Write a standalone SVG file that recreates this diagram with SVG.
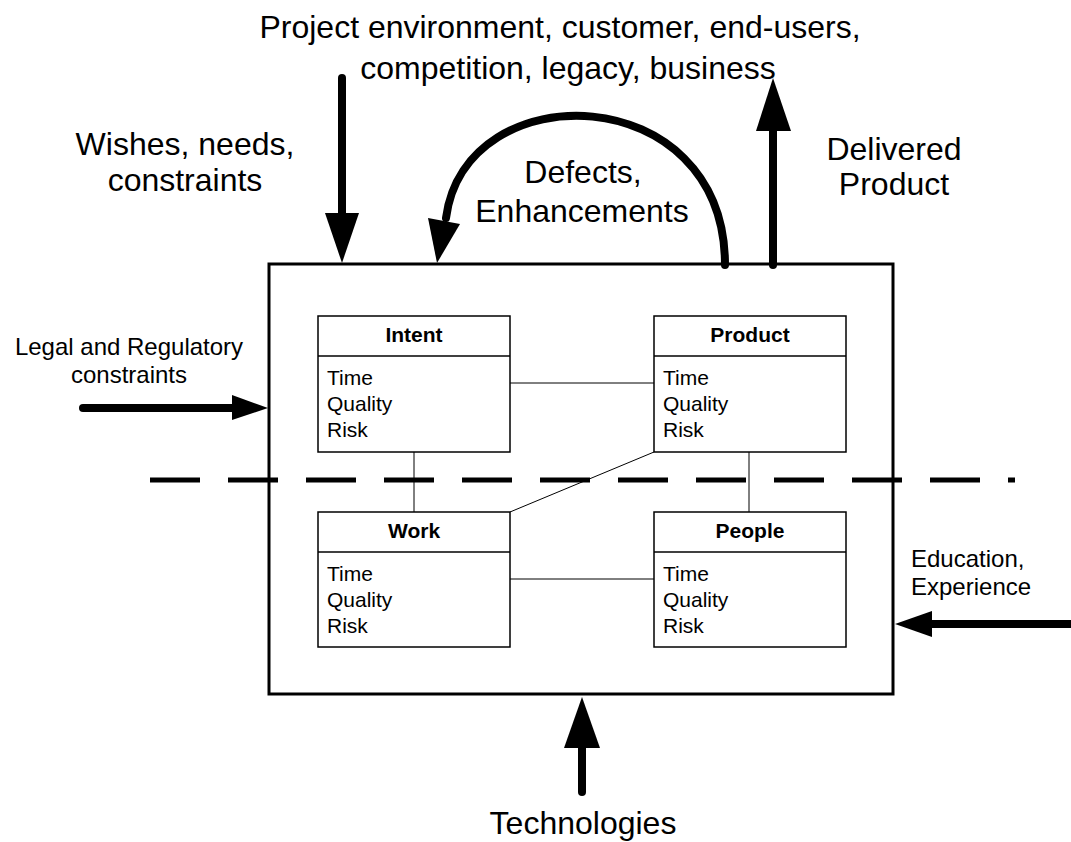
<svg xmlns="http://www.w3.org/2000/svg" width="1071" height="842" viewBox="0 0 1071 842">
<style>
text{font-family:"Liberation Sans",Arial,sans-serif;fill:#000}
.big{font-size:32px;text-anchor:middle}
.mid{font-size:24px}
.title{font-size:21px;font-weight:bold;text-anchor:middle}
.body{font-size:21px}
.box{fill:#fff;stroke:#000;stroke-width:1.5}
.thin{stroke:#000;stroke-width:1;fill:none}
.thick{stroke:#000;stroke-width:8;stroke-linecap:round;fill:none}
</style>
<rect width="1071" height="842" fill="#fff"/>
<g id="frame">
<rect x="269" y="264" width="624" height="430" fill="none" stroke="#000" stroke-width="3"/>
</g>
<g id="divider">
<line x1="150" y1="480" x2="1015" y2="480" stroke="#000" stroke-width="5" stroke-dasharray="50 28"/>
</g>
<g id="connectors">
<line class="thin" x1="510" y1="383" x2="654" y2="383"/>
<line class="thin" x1="510" y1="579" x2="654" y2="579"/>
<line class="thin" x1="414" y1="452" x2="414" y2="512"/>
<line class="thin" x1="749" y1="452" x2="749" y2="512"/>
<line class="thin" x1="654" y1="452" x2="510" y2="512"/>
<!-- wishes -->
<line class="thick" x1="342" y1="78" x2="342" y2="225"/>
<polygon points="325,213 359,213 342,263"/>
<!-- delivered -->
<line class="thick" x1="773" y1="265" x2="773" y2="125"/>
<polygon points="756,131 791,131 773,78"/>
<!-- defects arc -->
<path class="thick" stroke-width="7" d="M 725 265 C 725 78 465 72 446 218"/>
<polygon points="428,218 460,224 437,263"/>
<!-- legal -->
<line class="thick" x1="83" y1="408" x2="240" y2="408"/>
<polygon points="232,395 232,420 268,408"/>
<!-- education -->
<line class="thick" x1="1071" y1="624" x2="925" y2="624"/>
<polygon points="932,611 932,637 895,624"/>
<!-- technologies -->
<line class="thick" x1="582" y1="792" x2="582" y2="740"/>
<polygon points="564,748 600,748 582,697"/>
</g>
<g id="intent">
<rect class="box" x="318" y="316" width="192" height="136"/>
<line class="box" x1="318" y1="356" x2="510" y2="356"/>
<text class="title" x="414" y="342">Intent</text>
<text class="body" x="327" y="385">Time</text>
<text class="body" x="327" y="411">Quality</text>
<text class="body" x="327" y="437">Risk</text>
</g>
<g id="product">
<rect class="box" x="654" y="316" width="192" height="136"/>
<line class="box" x1="654" y1="356" x2="846" y2="356"/>
<text class="title" x="750" y="342">Product</text>
<text class="body" x="663" y="385">Time</text>
<text class="body" x="663" y="411">Quality</text>
<text class="body" x="663" y="437">Risk</text>
</g>
<g id="work">
<rect class="box" x="318" y="512" width="192" height="135"/>
<line class="box" x1="318" y1="552" x2="510" y2="552"/>
<text class="title" x="414" y="538">Work</text>
<text class="body" x="327" y="581">Time</text>
<text class="body" x="327" y="607">Quality</text>
<text class="body" x="327" y="633">Risk</text>
</g>
<g id="people">
<rect class="box" x="654" y="512" width="192" height="135"/>
<line class="box" x1="654" y1="552" x2="846" y2="552"/>
<text class="title" x="750" y="538">People</text>
<text class="body" x="663" y="581">Time</text>
<text class="body" x="663" y="607">Quality</text>
<text class="body" x="663" y="633">Risk</text>
</g>
<g id="labels">
<text class="big" x="560" y="38">Project environment, customer, end-users,</text>
<text class="big" x="568" y="79">competition, legacy, business</text>
<text class="big" x="185" y="155">Wishes, needs,</text>
<text class="big" x="185" y="191">constraints</text>
<text class="big" x="583" y="183">Defects,</text>
<text class="big" x="582" y="222">Enhancements</text>
<text class="big" x="894" y="160">Delivered</text>
<text class="big" x="894" y="195">Product</text>
<text class="mid" x="129" y="355" text-anchor="middle">Legal and Regulatory</text>
<text class="mid" x="129" y="383" text-anchor="middle">constraints</text>
<text class="mid" x="911" y="567">Education,</text>
<text class="mid" x="911" y="595">Experience</text>
<text class="big" x="583" y="834">Technologies</text>
</g>
</svg>
